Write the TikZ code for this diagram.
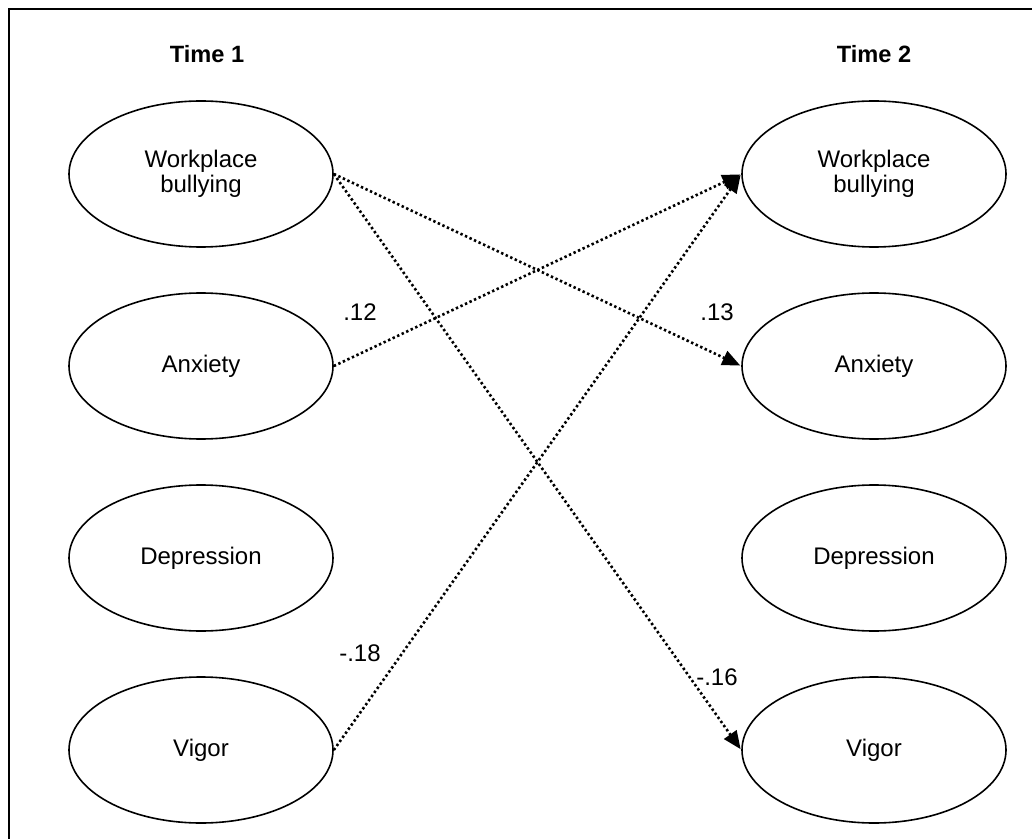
\documentclass[tikz,border=0pt]{standalone}
\usepackage{fontspec}
\setmainfont{Liberation Sans}
\usetikzlibrary{arrows.meta, positioning, shapes}

\begin{document}
\begin{tikzpicture}[
    x=0.5pt, y=-0.5pt,
    latent/.style={ellipse, draw=black, line width=0.8pt, minimum width=132pt, minimum height=73pt, inner sep=1pt, align=center, font=\fontsize{12}{12.5}\selectfont},
    timelabel/.style={font=\fontsize{11.8}{13}\selectfont\bfseries},
    pathlabel/.style={font=\fontsize{12}{13}\selectfont, inner sep=1pt},
    effect/.style={line width=1.3pt, dash pattern=on 1.2pt off 1.3pt, -{Triangle[length=9pt, width=7.5pt]}, shorten >=0.5pt},
]
    \useasboundingbox (0,0) rectangle (1032,839);

    % frame
    \draw[line width=1pt] (1040,9) -- (9,9) -- (9,850);

    % headings
    \node[timelabel] (T1) at (207,54) {Time 1};
    \node[timelabel] (T2) at (874,54) {Time 2};

    % Time 1
    \node[latent] (WB1)  at (201,174) {Workplace\\bullying};
    \node[latent] (ANX1) at (201,366) {Anxiety};
    \node[latent] (DEP1) at (201,558) {Depression};
    \node[latent] (VIG1) at (201,750) {Vigor};

    % Time 2
    \node[latent] (WB2)  at (874,174) {Workplace\\bullying};
    \node[latent] (ANX2) at (874,366) {Anxiety};
    \node[latent] (DEP2) at (874,558) {Depression};
    \node[latent] (VIG2) at (874,750) {Vigor};

    % Cross-lagged paths
    \draw[effect] (WB1.east) -- (ANX2.west);
    \draw[effect] (WB1.east) -- (VIG2.west);
    \draw[effect] (ANX1.east) -- (WB2.west);
    \draw[effect] (VIG1.east) -- (WB2.west);

    % Coefficients
    \node[pathlabel] (c12) at (360,312) {.12};
    \node[pathlabel] (c13) at (717,312) {.13};
    \node[pathlabel] (c18) at (360,653) {-.18};
    \node[pathlabel] (c16) at (717,677) {-.16};

\end{tikzpicture}
\end{document}
